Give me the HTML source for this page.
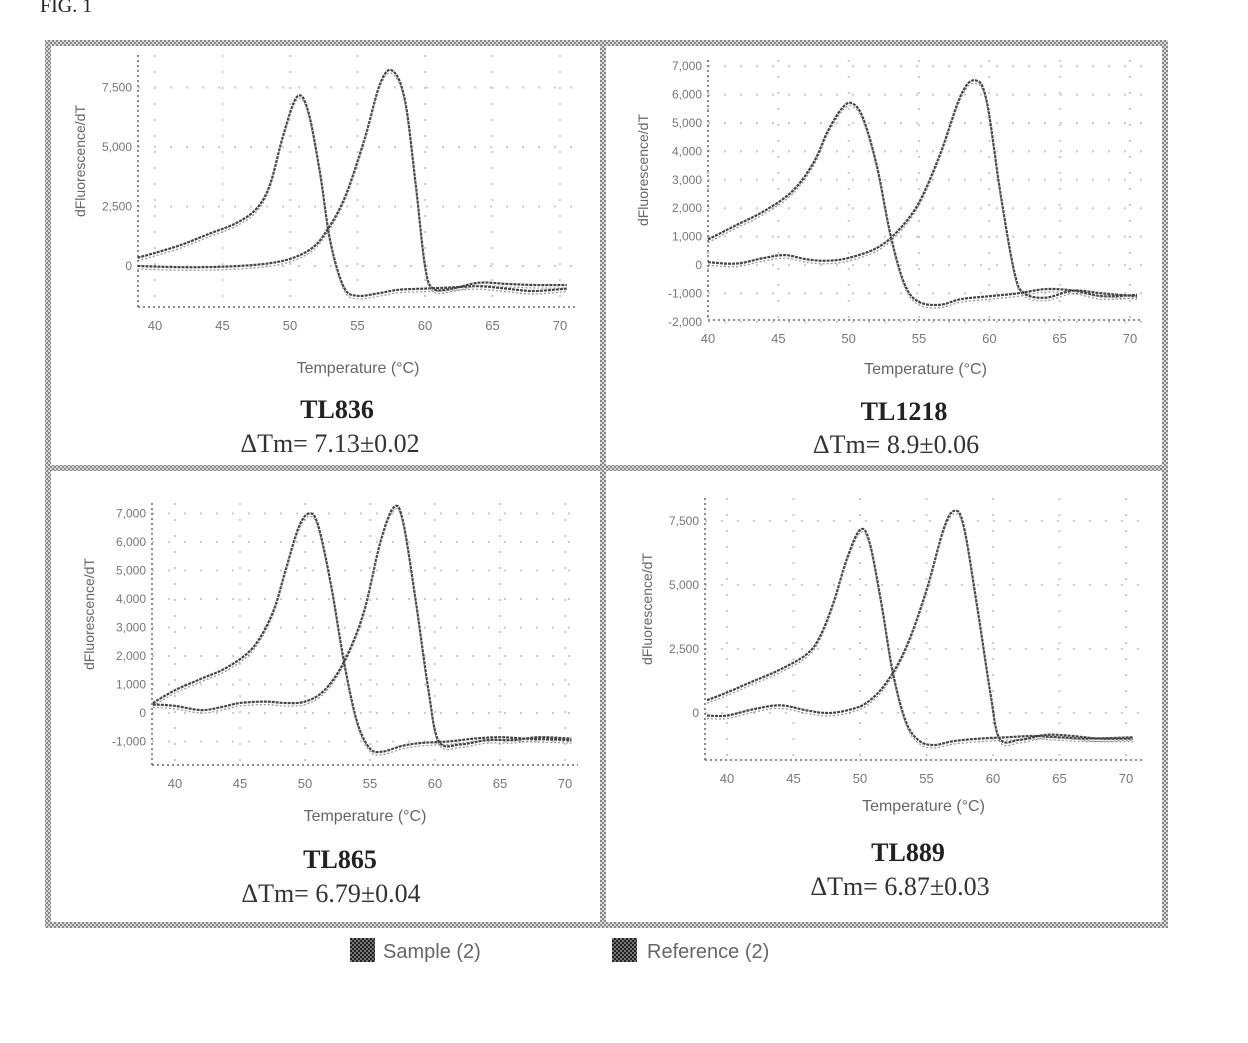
<!DOCTYPE html>
<html><head><meta charset="utf-8">
<style>
html,body{margin:0;padding:0;background:#fff;}
svg{display:block;}
text{font-family:"Liberation Sans",sans-serif;}
.ser{font-family:"Liberation Serif",serif;}
</style></head>
<body>
<svg id="s" width="1248" height="1043" viewBox="0 0 1248 1043" xmlns="http://www.w3.org/2000/svg">
<defs>
<pattern id="hat" width="4" height="4" patternUnits="userSpaceOnUse">
<rect width="4" height="4" fill="#d8d8d8"/><rect width="2" height="2" fill="#888"/><rect x="2" y="2" width="2" height="2" fill="#888"/>
</pattern>
<pattern id="dk" width="4" height="4" patternUnits="userSpaceOnUse">
<rect width="4" height="4" fill="#777"/><rect width="2" height="2" fill="#222"/><rect x="2" y="2" width="2" height="2" fill="#222"/>
</pattern>
</defs>
<text x="40" y="12" class="ser" font-size="20" fill="#222">FIG. 1</text>
<rect x="45" y="40" width="1123" height="6" fill="url(#hat)"/>
<rect x="45" y="922" width="1123" height="6" fill="url(#hat)"/>
<rect x="45" y="40" width="6" height="888" fill="url(#hat)"/>
<rect x="1162" y="40" width="6" height="888" fill="url(#hat)"/>
<rect x="600" y="40" width="6" height="888" fill="url(#hat)"/>
<rect x="45" y="465" width="1123" height="6" fill="url(#hat)"/>
<g id="plots"></g>
<text x="337" y="418" text-anchor="middle" class="ser" font-size="26" font-weight="bold" fill="#222">TL836</text>
<text x="330" y="452" text-anchor="middle" class="ser" font-size="26" fill="#333">ΔTm= 7.13±0.02</text>
<text x="904" y="420" text-anchor="middle" class="ser" font-size="26" font-weight="bold" fill="#222">TL1218</text>
<text x="896" y="453" text-anchor="middle" class="ser" font-size="26" fill="#333">ΔTm= 8.9±0.06</text>
<text x="340" y="868" text-anchor="middle" class="ser" font-size="26" font-weight="bold" fill="#222">TL865</text>
<text x="331" y="902" text-anchor="middle" class="ser" font-size="26" fill="#333">ΔTm= 6.79±0.04</text>
<text x="908" y="861" text-anchor="middle" class="ser" font-size="26" font-weight="bold" fill="#222">TL889</text>
<text x="900" y="895" text-anchor="middle" class="ser" font-size="26" fill="#333">ΔTm= 6.87±0.03</text>
<rect x="350" y="938" width="25" height="24" fill="url(#dk)"/>
<text x="383" y="958" font-size="20" fill="#666">Sample (2)</text>
<rect x="612" y="938" width="25" height="24" fill="url(#dk)"/>
<text x="647" y="958" font-size="20" fill="#666">Reference (2)</text>
</svg>
<script>
var NS="http://www.w3.org/2000/svg";
var G=document.getElementById("plots");
function el(t,a,txt){var e=document.createElementNS(NS,t);for(var k in a)e.setAttribute(k,a[k]);if(txt!==undefined)e.textContent=txt;G.appendChild(e);return e;}
function spline(pts){
 var d="M"+pts[0][0].toFixed(1)+","+pts[0][1].toFixed(1);
 for(var i=0;i<pts.length-1;i++){
  var p0=pts[Math.max(0,i-1)],p1=pts[i],p2=pts[i+1],p3=pts[Math.min(pts.length-1,i+2)];
  var c1x=p1[0]+(p2[0]-p0[0])/6,c1y=p1[1]+(p2[1]-p0[1])/6,c2x=p2[0]-(p3[0]-p1[0])/6,c2y=p2[1]-(p3[1]-p1[1])/6;
  d+=" C"+c1x.toFixed(1)+","+c1y.toFixed(1)+" "+c2x.toFixed(1)+","+c2y.toFixed(1)+" "+p2[0].toFixed(1)+","+p2[1].toFixed(1);
 }
 return d;
}
function panel(P){
 var X=function(T){return P.x40+(T-40)*(P.x70-P.x40)/30;};
 var Y=function(v){return P.y0-v*P.ys;};
 P.yt.forEach(function(t){el("line",{x1:P.L,x2:P.R,y1:Y(t[0]),y2:Y(t[0]),stroke:"#ccc","stroke-width":2,"stroke-dasharray":"2 14"});
   el("text",{x:P.L-6,y:Y(t[0])+4,"text-anchor":"end","font-size":12,fill:"#777"},t[1]);});
 for(var T=40;T<=70;T+=5){var x=X(T);
   el("line",{x1:x,x2:x,y1:P.T,y2:P.B,stroke:"#ccc","stroke-width":2,"stroke-dasharray":"2 14"});
   el("text",{x:x,y:P.B+23,"text-anchor":"middle","font-size":13,fill:"#777"},String(T));}
 el("line",{x1:P.L,x2:P.L,y1:P.T,y2:P.B,stroke:"#666","stroke-width":1.5,"stroke-dasharray":"2 3"});
 el("line",{x1:P.L,x2:P.R,y1:P.B,y2:P.B,stroke:"#666","stroke-width":1.5,"stroke-dasharray":"2 3"});
 el("text",{x:(P.L+P.R)/2,y:P.B+P.to,"text-anchor":"middle","font-size":16,fill:"#666"},"Temperature (°C)");
 el("text",{x:0,y:0,"text-anchor":"middle","font-size":14,fill:"#666",transform:"translate("+(P.L-P.yo)+","+((P.T+P.B)/2-20)+") rotate(-90)"},"dFluorescence/dT");
 [P.s,P.r].forEach(function(c){
  var pts=c.map(function(p){return [X(p[0]),Y(p[1])];});
  var d=spline(pts);
  el("path",{d:d,fill:"none",stroke:"#444","stroke-width":2.2,"stroke-dasharray":"3 1"});
  el("path",{d:d,fill:"none",stroke:"#777","stroke-width":1.2,transform:"translate(0,3)","stroke-dasharray":"2 2",opacity:0.8});
 });
}
panel({L:138,R:578,T:55,B:307,x40:155,x70:560,y0:266,ys:59.5/2500,yo:53,to:66,
 yt:[[7500,"7,500"],[5000,"5,000"],[2500,"2,500"],[0,"0"]],
 s:[[38.7,350],[40,550],[42,900],[44,1350],[46,1800],[47.5,2400],[48.5,3400],[49.5,5500],[50.5,7100],[51.3,6600],[52.2,4000],[53,1000],[54,-900],[55,-1250],[56.5,-1150],[58,-1000],[60,-950],[62,-900],[64,-850],[66,-950],[68,-1050],[70.5,-950]],
 r:[[38.7,0],[42,-50],[45,-30],[48,80],[50,300],[51.5,700],[52.5,1300],[54,2800],[55.5,5300],[56.7,7700],[57.6,8200],[58.5,7000],[59.3,3500],[60,0],[60.6,-950],[62,-950],[64,-700],[66,-750],[68,-800],[70.5,-800]]});
panel({L:708,R:1143,T:60,B:320,x40:708,x70:1130,y0:265,ys:28.4/1000,yo:60,to:54,
 yt:[[7000,"7,000"],[6000,"6,000"],[5000,"5,000"],[4000,"4,000"],[3000,"3,000"],[2000,"2,000"],[1000,"1,000"],[0,"0"],[-1000,"-1,000"],[-2000,"-2,000"]],
 s:[[40,900],[42,1400],[44,1900],[46,2600],[47.5,3600],[48.5,4700],[49.5,5500],[50.2,5700],[51,5200],[52,3500],[53,1000],[54,-700],[55,-1300],[56.5,-1400],[58,-1200],[60,-1100],[62,-1000],[64,-850],[66,-900],[68,-1100],[70.5,-1050]],
 r:[[40,100],[42,50],[44,250],[45.5,350],[47,200],[48.5,150],[50,250],[52,600],[53.5,1200],[55,2200],[56.5,3900],[58,6000],[59,6500],[59.8,5800],[60.8,2500],[61.8,-300],[62.5,-1000],[64,-1150],[66,-900],[68,-1000],[70.5,-1100]]});
panel({L:152,R:578,T:503,B:765,x40:175,x70:565,y0:713,ys:28.5/1000,yo:58,to:56,
 yt:[[7000,"7,000"],[6000,"6,000"],[5000,"5,000"],[4000,"4,000"],[3000,"3,000"],[2000,"2,000"],[1000,"1,000"],[0,"0"],[-1000,"-1,000"]],
 s:[[38.3,350],[40,800],[42,1200],[44,1600],[46,2300],[47.5,3500],[48.5,5000],[49.5,6500],[50.3,7000],[51,6600],[52,4500],[53,1800],[54,-300],[55,-1250],[56,-1350],[57.5,-1150],[59,-1050],[61,-1000],[63,-900],[65,-850],[67,-900],[70.5,-950]],
 r:[[38.3,300],[40,250],[42,100],[43.5,200],[45,350],[47,400],[48.5,350],[50,400],[51.5,800],[53,1800],[54.5,3500],[55.8,6000],[56.8,7200],[57.5,6800],[58.5,4000],[59.5,800],[60.3,-1000],[62,-1100],[64,-950],[66,-950],[68,-850],[70.5,-900]]});
panel({L:705,R:1142,T:498,B:760,x40:727,x70:1126,y0:713,ys:64/2500,yo:53,to:51,
 yt:[[7500,"7,500"],[5000,"5,000"],[2500,"2,500"],[0,"0"]],
 s:[[38.5,500],[40,800],[42,1250],[44,1700],[46,2300],[47,3000],[48,4300],[49,6000],[50,7150],[50.7,6700],[51.6,4300],[52.5,1500],[53.5,-400],[54.5,-1100],[55.6,-1250],[57,-1100],[59,-1000],[61,-950],[63,-900],[65,-950],[67,-1000],[70.5,-950]],
 r:[[38.5,-100],[40,-100],[42,150],[44,300],[46,100],[47.5,0],[49,100],[50.5,400],[52,1200],[53.5,2600],[55,4800],[56.3,7200],[57.1,7900],[57.8,7300],[58.8,4200],[59.8,800],[60.5,-1000],[62,-1050],[64,-850],[66,-900],[68,-1000],[70.5,-1000]]});
</script>
</body></html>
